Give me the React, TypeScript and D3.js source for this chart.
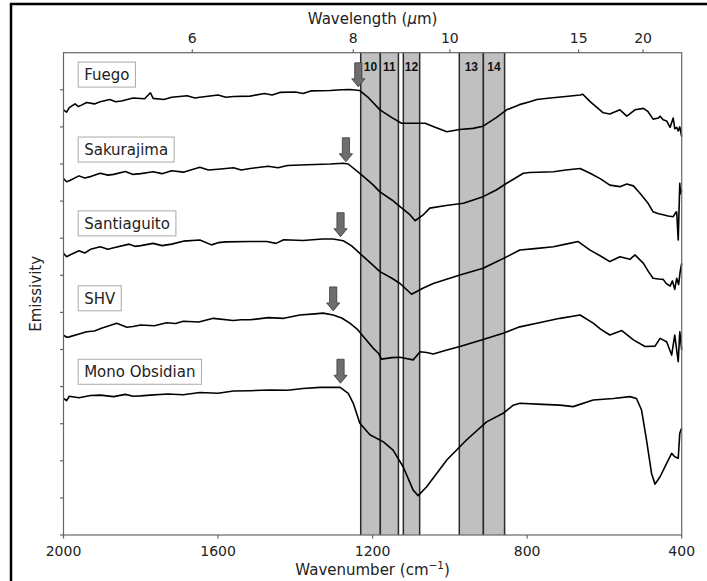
import React from "react";
import * as d3 from "d3";

// ---- Data (wavenumber cm^-1, offset emissivity in tick units) ----
const sampleNames = ["Fuego", "Sakurajima", "Santiaguito", "SHV", "Mono Obsidian"];

const fuego: [number, number][] = [
  [2000, 11.46], [1992, 11.4], [1985, 11.52], [1970, 11.62], [1962, 11.55], [1955, 11.58], [1940, 11.66],
  [1920, 11.62], [1905, 11.68], [1880, 11.74], [1865, 11.68], [1850, 11.7], [1820, 11.78], [1790, 11.76],
  [1775, 11.92], [1768, 11.77], [1740, 11.74], [1720, 11.8], [1680, 11.84], [1660, 11.78], [1647, 11.8],
  [1600, 11.86], [1580, 11.8], [1560, 11.82], [1517, 11.83], [1480, 11.9], [1460, 11.86], [1440, 11.93],
  [1400, 11.94], [1380, 11.9], [1360, 11.97], [1310, 11.98], [1280, 12.0], [1259, 12.01], [1240, 11.99],
  [1233, 11.98], [1210, 11.78], [1181, 11.46], [1150, 11.25], [1125, 11.1], [1095, 11.1], [1064, 11.1],
  [1040, 11.0], [1008, 10.87], [975, 10.93], [940, 10.96], [914, 11.02], [880, 11.25], [853, 11.46],
  [820, 11.6], [793, 11.68], [775, 11.74], [740, 11.78], [700, 11.82], [663, 11.86], [656, 11.88],
  [637, 11.68], [603, 11.38], [586, 11.35], [560, 11.46], [542, 11.29], [521, 11.46], [499, 11.5],
  [487, 11.41], [474, 11.21], [460, 11.24], [456, 11.29], [448, 11.19], [439, 11.16], [430, 10.99],
  [422, 11.24], [418, 10.95], [413, 10.99], [409, 10.89], [405, 11.0], [400, 10.74],
];

const sakurajima: [number, number][] = [
  [2000, 9.61], [1992, 9.52], [1985, 9.55], [1960, 9.68], [1945, 9.62], [1930, 9.66], [1905, 9.75],
  [1885, 9.7], [1870, 9.72], [1840, 9.8], [1820, 9.72], [1800, 9.74], [1768, 9.79], [1745, 9.74],
  [1720, 9.82], [1690, 9.78], [1647, 9.91], [1625, 9.84], [1600, 9.86], [1560, 9.9], [1540, 9.84],
  [1517, 9.88], [1470, 9.94], [1445, 9.9], [1420, 9.96], [1370, 9.98], [1310, 10.0], [1276, 10.02],
  [1263, 10.0], [1230, 9.72], [1200, 9.45], [1181, 9.25], [1150, 9.03], [1129, 8.85], [1105, 8.65],
  [1090, 8.47], [1070, 8.62], [1052, 8.81], [1010, 8.88], [965, 8.94], [914, 9.12], [880, 9.3],
  [853, 9.48], [810, 9.75], [793, 9.77], [732, 9.79], [700, 9.84], [663, 9.88], [637, 9.75],
  [610, 9.6], [586, 9.43], [560, 9.39], [542, 9.46], [525, 9.41], [508, 9.21], [487, 8.94],
  [474, 8.71], [460, 8.66], [448, 8.63], [435, 8.6], [422, 8.58], [415, 8.7], [413, 8.71],
  [409, 7.95], [405, 9.48], [403, 9.2], [400, 9.3],
];

const santiaguito: [number, number][] = [
  [2000, 7.59], [1992, 7.5], [1985, 7.54], [1960, 7.66], [1945, 7.6], [1930, 7.7], [1905, 7.77],
  [1885, 7.7], [1870, 7.74], [1830, 7.84], [1815, 7.78], [1800, 7.8], [1768, 7.86], [1745, 7.8],
  [1720, 7.84], [1690, 7.92], [1647, 7.95], [1617, 7.82], [1600, 7.88], [1580, 7.9], [1517, 7.91],
  [1474, 7.91], [1450, 7.86], [1430, 7.96], [1380, 7.94], [1330, 7.98], [1302, 7.98], [1276, 7.93],
  [1255, 7.8], [1233, 7.59], [1200, 7.28], [1181, 7.1], [1150, 6.92], [1129, 6.78], [1099, 6.49],
  [1070, 6.65], [1043, 6.78], [974, 7.01], [914, 7.19], [870, 7.41], [819, 7.68], [780, 7.72],
  [732, 7.77], [700, 7.84], [668, 7.91], [637, 7.68], [610, 7.52], [586, 7.37], [560, 7.5],
  [534, 7.43], [521, 7.55], [499, 7.32], [486, 7.1], [474, 6.92], [460, 6.9], [448, 6.89],
  [440, 6.78], [430, 6.71], [424, 6.85], [418, 6.62], [413, 6.92], [408, 6.75], [404, 7.1], [400, 7.32],
];

const shv: [number, number][] = [
  [2000, 5.39], [1992, 5.33], [1985, 5.34], [1960, 5.42], [1940, 5.48], [1920, 5.5], [1900, 5.58],
  [1862, 5.71], [1836, 5.6], [1820, 5.62], [1800, 5.66], [1765, 5.64], [1733, 5.72], [1710, 5.7],
  [1690, 5.76], [1650, 5.74], [1612, 5.84], [1561, 5.78], [1540, 5.8], [1517, 5.8], [1470, 5.86],
  [1430, 5.84], [1388, 5.93], [1350, 5.96], [1328, 5.98], [1302, 5.93], [1280, 5.85], [1259, 5.71],
  [1240, 5.55], [1224, 5.35], [1198, 5.03], [1185, 4.9], [1177, 4.74], [1150, 4.78], [1129, 4.79],
  [1110, 4.75], [1095, 4.72], [1077, 4.94], [1060, 4.92], [1043, 4.88], [1010, 4.98], [974, 5.08],
  [914, 5.27], [862, 5.44], [819, 5.61], [760, 5.74], [715, 5.84], [663, 5.93], [629, 5.71],
  [610, 5.55], [586, 5.39], [555, 5.51], [525, 5.26], [495, 5.08], [469, 5.09], [456, 5.3],
  [439, 5.21], [426, 4.85], [418, 5.39], [409, 4.67], [405, 5.48], [400, 4.99],
];

const monoObsidian: [number, number][] = [
  [2000, 3.68], [1992, 3.62], [1985, 3.74], [1960, 3.7], [1930, 3.76], [1905, 3.77], [1870, 3.73],
  [1840, 3.79], [1820, 3.74], [1800, 3.75], [1776, 3.77], [1730, 3.8], [1690, 3.78], [1647, 3.84],
  [1600, 3.82], [1560, 3.88], [1517, 3.89], [1466, 3.91], [1420, 3.9], [1380, 3.95], [1336, 3.98],
  [1284, 3.98], [1263, 3.82], [1250, 3.55], [1233, 3.01], [1207, 2.7], [1172, 2.51], [1147, 2.29],
  [1121, 1.84], [1095, 1.21], [1082, 1.06], [1060, 1.3], [1008, 2.02], [957, 2.56], [905, 3.05],
  [862, 3.28], [836, 3.5], [819, 3.55], [760, 3.52], [715, 3.5], [681, 3.46], [629, 3.64],
  [577, 3.68], [534, 3.73], [517, 3.68], [504, 3.37], [491, 2.56], [478, 1.66], [469, 1.37],
  [456, 1.57], [439, 1.93], [426, 2.2], [418, 2.11], [409, 2.07], [405, 2.74], [400, 2.88],
];

const series = [fuego, sakurajima, santiaguito, shv, monoObsidian];

// label box centers (tick units) and arrow positions
const labelLevels = [12.41, 10.39, 8.4, 6.38, 4.4];
const labelWn = 1962;
const arrowWn = [1237, 1269, 1283, 1302, 1283];
const arrowTip = [12.08, 10.06, 8.04, 6.04, 4.09];

// ASTER TIR bands (micrometres)
const bandNames = ["10", "11", "12", "13", "14"];
const bandRanges: [number, number][] = [
  [8.125, 8.475], [8.475, 8.825], [8.925, 9.275], [10.25, 10.95], [10.95, 11.65],
];

const bottomTicks = [2000, 1600, 1200, 800, 400];
const topTicks = [6, 8, 10, 15, 20];
const leftTicks = [0, 1, 2, 3, 4, 5, 6, 7, 8, 9, 10, 11, 12];

const W = 707;
const H = 581;
const font = "'DejaVu Sans', sans-serif";

function textWidth(t: string, f: string): number {
  const c = document.createElement("canvas").getContext("2d");
  if (!c) return t.length * 8;
  c.font = f;
  return c.measureText(t).width;
}

export default function App() {
  const x = d3.scaleLinear().domain([2000, 400]).range([63.5, 681.7]);
  const y = d3.scaleLinear().domain([0, 13]).range([535, 52.7]);
  const line = d3
    .line<[number, number]>()
    .x((d) => x(d[0]))
    .y((d) => y(d[1]));

  const axisColor = "#666";
  const [x0, x1] = x.range();
  const [y0, y1] = y.range();

  return (
    <svg
      width={W}
      height={H}
      style={{ position: "absolute", left: 0, top: 0, background: "#fff" }}
    >
      {/* outer frame */}
      <line x1={10} y1={4} x2={W} y2={4} stroke="#000" strokeWidth={2.5} />
      <line x1={11} y1={3} x2={11} y2={H} stroke="#000" strokeWidth={2.5} />

      {/* bands */}
      {bandRanges.map((b, i) => {
        const xa = x(10000 / b[0]);
        const xb = x(10000 / b[1]);
        return (
          <g key={"b" + i}>
            <rect x={xa} y={y1} width={xb - xa} height={y0 - y1} fill="#c0c0c0" />
            <line x1={xa} x2={xa} y1={y1} y2={y0} stroke="#2a2a2a" strokeWidth={1.5} />
            <line x1={xb} x2={xb} y1={y1} y2={y0} stroke="#2a2a2a" strokeWidth={1.5} />
            <text
              x={(xa + xb) / 2}
              y={71}
              textAnchor="middle"
              fontFamily="'Liberation Sans', Arial, sans-serif"
              fontWeight="bold"
              fontSize={12}
              fill="#111"
            >
              {bandNames[i]}
            </text>
          </g>
        );
      })}

      {/* curves */}
      {series.map((s, i) => (
        <path key={"s" + i} d={line(s) || ""} fill="none" stroke="#000" strokeWidth={1.6} strokeLinejoin="round" />
      ))}

      {/* arrows */}
      {arrowWn.map((w, i) => {
        const cx = x(w);
        const ty = y(arrowTip[i]);
        const p = [
          [cx - 3.6, ty - 24],
          [cx + 3.6, ty - 24],
          [cx + 3.6, ty - 8],
          [cx + 6.6, ty - 8],
          [cx, ty],
          [cx - 6.6, ty - 8],
          [cx - 3.6, ty - 8],
        ];
        return (
          <polygon
            key={"a" + i}
            points={p.map((q) => q.join(",")).join(" ")}
            fill="#6e6e6e"
            stroke="#3a3a3a"
            strokeWidth={0.8}
          />
        );
      })}

      {/* label boxes */}
      {sampleNames.map((n, i) => {
        const f = `15px ${font}`;
        const tw = textWidth(n, f);
        const bx = x(labelWn);
        const cy = y(labelLevels[i]);
        return (
          <g key={"l" + i}>
            <rect x={bx} y={cy - 12.5} width={tw + 12} height={25} fill="#fff" stroke="#aaa" strokeWidth={1} />
            <text x={bx + 6} y={cy + 5.5} fontFamily={font} fontSize={15} fill="#222">
              {n}
            </text>
          </g>
        );
      })}

      {/* axes frame */}
      <rect x={x0} y={y1} width={x1 - x0} height={y0 - y1} fill="none" stroke={axisColor} strokeWidth={1.2} />

      {/* bottom ticks */}
      {bottomTicks.map((t) => (
        <g key={"bt" + t}>
          <line x1={x(t)} x2={x(t)} y1={y0} y2={y0 + 3.5} stroke={axisColor} strokeWidth={1.2} />
          <text x={x(t)} y={555.5} textAnchor="middle" fontFamily={font} fontSize={14} fill="#222">
            {t}
          </text>
        </g>
      ))}

      {/* top ticks */}
      {topTicks.map((t) => (
        <g key={"tt" + t}>
          <line x1={x(10000 / t)} x2={x(10000 / t)} y1={y1} y2={y1 - 3.5} stroke={axisColor} strokeWidth={1.2} />
          <text x={x(10000 / t)} y={43} textAnchor="middle" fontFamily={font} fontSize={14} fill="#222">
            {t}
          </text>
        </g>
      ))}

      {/* left ticks */}
      {leftTicks.map((t) => (
        <line key={"lt" + t} x1={x0} x2={x0 - 3.5} y1={y(t)} y2={y(t)} stroke={axisColor} strokeWidth={1.2} />
      ))}

      {/* axis titles */}
      <text x={(x0 + x1) / 2} y={575} textAnchor="middle" fontFamily={font} fontSize={15} fill="#222">
        Wavenumber (cm
        <tspan dy={-6} fontSize={10.5}>−1</tspan>
        <tspan dy={6}>)</tspan>
      </text>
      <text x={(x0 + x1) / 2} y={23.5} textAnchor="middle" fontFamily={font} fontSize={15} fill="#222">
        Wavelength (<tspan fontStyle="italic">μ</tspan>m)
      </text>
      <text
        transform={`translate(40.5, ${(y0 + y1) / 2}) rotate(-90)`}
        textAnchor="middle"
        fontFamily={font}
        fontSize={15}
        fill="#222"
      >
        Emissivity
      </text>
    </svg>
  );
}
